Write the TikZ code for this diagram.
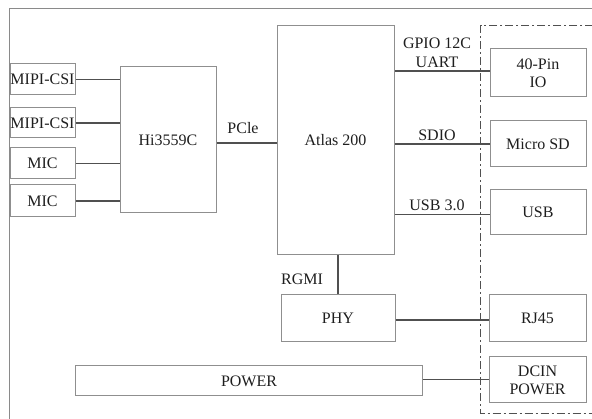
\documentclass[tikz,border=0pt]{standalone}
\usepackage{fontspec}
\setmainfont{Liberation Serif}
\begin{document}
\begin{tikzpicture}[x=1pt,y=-1pt,
  blk/.style={draw=boxgray,line width=1pt,inner sep=0pt,align=center,text=txt,font=\fontsize{16}{18}\selectfont},
  wire/.style={draw=wiregray,line width=1.8pt},
  lbl/.style={inner sep=0pt,text=txt,font=\fontsize{16}{18}\selectfont}]
\definecolor{boxgray}{HTML}{8F8F8F}
\definecolor{wiregray}{HTML}{505050}
\definecolor{txt}{HTML}{1E1E1E}
\definecolor{framegray}{HTML}{8A8A8A}
\useasboundingbox (0,0) rectangle (592,419);
% outer frame
\coordinate (fl) at (9.5,419);
\coordinate (ft) at (9.5,8.5);
\coordinate (fr) at (593,8.5);
\draw[framegray,line width=1.6pt] (fl) -- (ft) -- (fr);
% dash-dot box
\coordinate (da) at (593,26);
\coordinate (db) at (480.5,26);
\coordinate (dc) at (480.5,413.5);
\coordinate (dd) at (593,413.5);
\draw[wiregray,line width=1pt,dash pattern=on 8pt off 3pt on 2pt off 3pt] (da) -- (db) -- (dc) -- (dd);
% left boxes
\node[blk,minimum width=65pt,minimum height=31pt] (mipi1) at (42.5,79.5) {MIPI-CSI};
\node[blk,minimum width=65pt,minimum height=30pt] (mipi2) at (42.5,123) {MIPI-CSI};
\node[blk,minimum width=65pt,minimum height=31pt] (mic1) at (42.5,163.5) {MIC};
\node[blk,minimum width=65pt,minimum height=32pt] (mic2) at (42.5,201) {MIC};
\node[blk,minimum width=96pt,minimum height=146pt] (hi) at (168,140) {Hi3559C};
\node[blk,minimum width=117pt,minimum height=229pt] (atlas) at (335.5,140.5) {Atlas 200};
\node[blk,minimum width=96pt,minimum height=48pt] (io) at (538,73) {40-Pin\\IO};
\node[blk,minimum width=96pt,minimum height=46pt] (sd) at (538,144) {Micro SD};
\node[blk,minimum width=96pt,minimum height=45pt] (usb) at (538,212.5) {USB};
\node[blk,minimum width=114pt,minimum height=47pt] (phy) at (338,318.5) {PHY};
\node[blk,minimum width=97pt,minimum height=47pt] (rj) at (537.5,318.5) {RJ45};
\node[blk,minimum width=97pt,minimum height=46pt] (dcin) at (537.5,380) {DCIN\\POWER};
\node[blk,minimum width=346.5pt,minimum height=30pt] (power) at (249,381) {POWER};
% wires
\draw[wire] (mipi1.east) -- (mipi1.east -| hi.west);
\draw[wire] (mipi2.east) -- (mipi2.east -| hi.west);
\draw[wire] (mic1.east) -- (mic1.east -| hi.west);
\draw[wire] (mic2.east) -- (mic2.east -| hi.west);
\draw[wire] ([yshift=-3pt]hi.east) -- ([yshift=-3pt]hi.east -| atlas.west);
\draw[wire] ([yshift=2pt]io.west) -- ([yshift=2pt]io.west -| atlas.east);
\draw[wire] (sd.west) -- (sd.west -| atlas.east);
\draw[wire] ([yshift=-2pt]usb.west) -- ([yshift=-2pt]usb.west -| atlas.east);
\draw[wire] (phy.north) -- (phy.north |- atlas.south);
\draw[wire] ([yshift=-1.5pt]phy.east) -- ([yshift=-1.5pt]rj.west);
\draw[wire] ([yshift=1.5pt]power.east) -- ([yshift=1.5pt]power.east -| dcin.west);
% labels
\node[lbl] (lpcie) at (243,128) {PCle};
\node[lbl] (lgpio) at (437,43) {GPIO 12C};
\node[lbl] (luart) at (437,62) {UART};
\node[lbl] (lsdio) at (437,135) {SDIO};
\node[lbl] (lusb) at (437,205) {USB 3.0};
\node[lbl] (lrgmi) at (302,279) {RGMI};
\end{tikzpicture}
\end{document}
